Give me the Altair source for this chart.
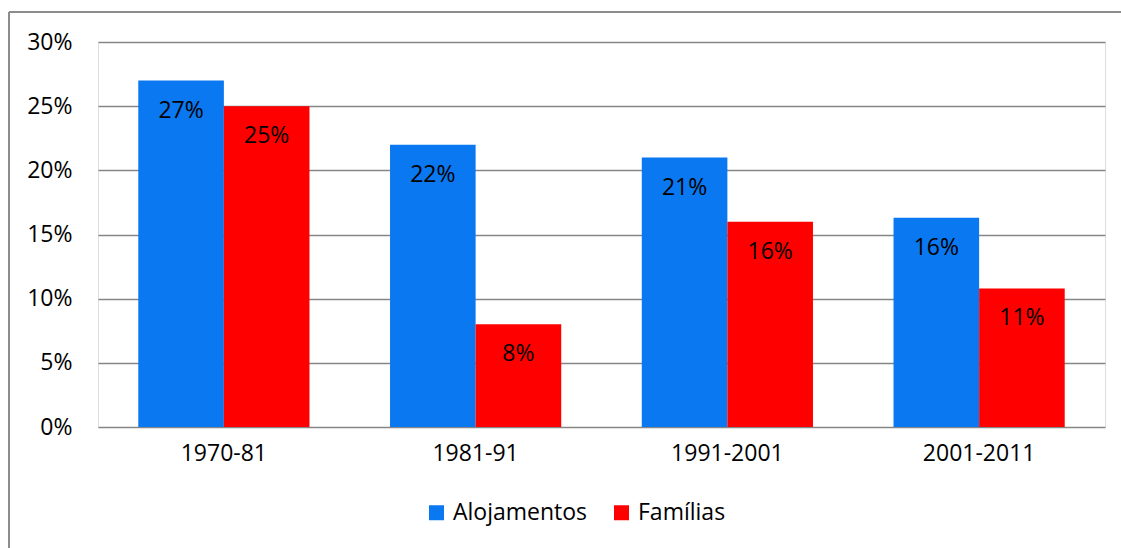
import altair as alt
import pandas as pd

# Growth by decade (share), for dwellings and households
periods = ["1970-81", "1981-91", "1991-2001", "2001-2011"]
series = ["Alojamentos", "Famílias"]
alojamentos = [0.27, 0.22, 0.21, 0.163]
familias = [0.25, 0.08, 0.16, 0.108]
colors = ["#0A78F0", "#FF0000"]

rows = []
for p, a, f in zip(periods, alojamentos, familias):
    rows.append({"period": p, "series": series[0], "value": a})
    rows.append({"period": p, "series": series[1], "value": f})
df = pd.DataFrame(rows)

FONT = "Open Sans"
FS = 23
W, H = 1007, 385

x_enc = alt.X(
    "period:N",
    sort=periods,
    title=None,
    scale=alt.Scale(paddingInner=0.32, paddingOuter=0.16),
    axis=alt.Axis(labelAngle=0, domain=False, ticks=False, labelPadding=15,
                  labelFontSize=FS, labelFont=FONT, labelColor="#000000"),
)
xoff = alt.XOffset("series:N", sort=series)

bars = alt.Chart(df).mark_bar().encode(
    x=x_enc,
    xOffset=xoff,
    y=alt.Y(
        "value:Q",
        title=None,
        scale=alt.Scale(domain=[0, 0.3], nice=False),
        axis=alt.Axis(format=".0%", values=[0, 0.05, 0.1, 0.15, 0.2, 0.25, 0.3],
                      domain=False, ticks=False, labelPadding=26,
                      labelFontSize=FS, labelFont=FONT, labelColor="#000000",
                      grid=True, gridColor="#868686", gridWidth=1.5),
    ),
    color=alt.Color(
        "series:N",
        sort=series,
        scale=alt.Scale(domain=series, range=colors),
        legend=alt.Legend(
            title=None, orient="none", direction="horizontal",
            legendX=327, legendY=459,
            symbolType="square", symbolSize=225, symbolStrokeWidth=0,
            labelFontSize=FS, labelFont=FONT, labelColor="#000000",
            labelOffset=5, columnPadding=22,
        ),
    ),
)

labels = alt.Chart(df).mark_text(
    baseline="middle", dy=30, fontSize=FS, font=FONT, color="#000000"
).encode(
    x=alt.X("period:N", sort=periods),
    xOffset=xoff,
    y="value:Q",
    text=alt.Text("value:Q", format=".0%"),
)

# Outer frame (top and left edges of the chart box)
frame_top = alt.Chart(df).mark_rule(color="#8C8C8C", strokeWidth=2).encode(
    x=alt.value(-89), x2=alt.value(1030), y=alt.value(-30)
)
frame_left = alt.Chart(df).mark_rule(color="#8C8C8C", strokeWidth=2).encode(
    x=alt.value(-89), y=alt.value(-30), y2=alt.value(510)
)

chart = alt.layer(bars, labels, frame_top, frame_left).properties(
    width=W,
    height=H,
    padding={"left": 98, "top": 42, "right": 16, "bottom": 121},
    autosize=alt.AutoSizeParams(type="none"),
).configure_view(stroke=None).configure(background="#FFFFFF")

chart.save("out.html", embed_options={"renderer": "svg", "actions": False})
